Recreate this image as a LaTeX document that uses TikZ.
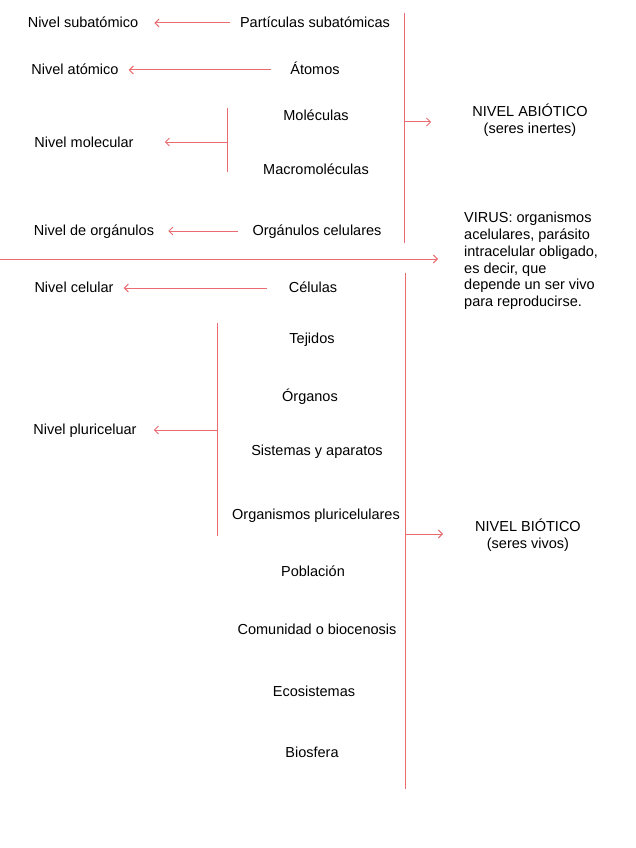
\documentclass[tikz,border=0pt]{standalone}
\usepackage{fontspec}
\setmainfont{Liberation Sans}
\usetikzlibrary{arrows.meta}
\definecolor{rojo}{RGB}{234,108,112}

\begin{document}
\begin{tikzpicture}[x = 1pt, y = -1pt,
	texto/.style = {inner sep = 0pt, font = \fontsize{14.5}{16.8}\selectfont},
	fila/.style = {texto, text height = 11pt, text depth = 2pt},
	linea/.style = {rojo, line width = 1pt},
	flecha/.style = {linea, -{Straight Barb[length = 4pt, width = 8pt]}}]
	%	marco
	\useasboundingbox (0, 0) rectangle (636, 848);
	
	\def\xeje{404}
	\def\xmol{227}
	\def\xplu{217}
	
	%	nivel abiotico
	\node[fila] (particulas) at (315, 23) {Partículas subatómicas};
	\node[fila] (subatomico) at (83, 23) {Nivel subatómico};
	\node[fila] (atomos) at (315, 70) {Átomos};
	\node[fila] (atomico) at (75, 70) {Nivel atómico};
	\node[fila] (moleculas) at (316, 116) {Moléculas};
	\node[fila] (macro) at (316, 170) {Macromoléculas};
	\node[fila] (molecular) at (84, 143) {Nivel molecular};
	\node[fila] (organulos) at (317, 231) {Orgánulos celulares};
	\node[fila] (norganulos) at (94, 231) {Nivel de orgánulos};
	\node[texto, align = center] (abiotico) at (530, 120) {NIVEL ABIÓTICO\\(seres inertes)};
	
	\draw[flecha, shorten <= 10pt, shorten >= 16pt] (particulas.west) -- (subatomico.east);
	\draw[flecha, shorten <= 19pt, shorten >= 10pt] (atomos.west) -- (atomico.east);
	\draw[flecha, shorten <= 14pt, shorten >= 14pt] (organulos.west) -- (norganulos.east);
	
	\coordinate (m1) at (\xmol, 108);
	\coordinate (m2) at (\xmol, 172);
	\coordinate (m0) at (\xmol, 142);
	\draw[linea] (m1) -- (m2);
	\draw[flecha, shorten >= 31pt] (m0) -- (m0 -| molecular.east);
	
	\coordinate (a1) at (\xeje, 13);
	\coordinate (a2) at (\xeje, 243);
	\coordinate (a0) at (\xeje, 122);
	\draw[linea] (a1) -- (a2);
	\draw[flecha, shorten >= 41pt] (a0) -- (a0 -| abiotico.west);
	
	%	virus
	\node[texto, align = left, anchor = west] (virus) at (464, 261) {VIRUS: organismos\\acelulares, parásito\\intracelular obligado,\\es decir, que\\depende un ser vivo\\para reproducirse.};
	\coordinate (v0) at (0, 259);
	\draw[flecha, shorten >= 26pt] (v0) -- (v0 -| virus.west);
	
	%	nivel biotico
	\node[fila] (celulas) at (313, 288) {Células};
	\node[fila] (celular) at (74, 288) {Nivel celular};
	\node[fila] (tejidos) at (312, 339) {Tejidos};
	\node[fila] (organos) at (310, 397) {Órganos};
	\node[fila] (sistemas) at (317, 451) {Sistemas y aparatos};
	\node[fila] (organismos) at (316, 515) {Organismos pluricelulares};
	\node[fila] (pluricelular) at (85, 430) {Nivel pluriceluar};
	\node[fila] (poblacion) at (313, 572) {Población};
	\node[fila] (comunidad) at (317, 630) {Comunidad o biocenosis};
	\node[fila] (ecosistemas) at (314, 692) {Ecosistemas};
	\node[fila] (biosfera) at (312, 753) {Biosfera};
	\node[texto, align = center] (biotico) at (528, 535) {NIVEL BIÓTICO\\(seres vivos)};
	
	\draw[flecha, shorten <= 22pt, shorten >= 10pt] (celulas.west) -- (celular.east);
	
	\coordinate (p1) at (\xplu, 323);
	\coordinate (p2) at (\xplu, 536);
	\coordinate (p0) at (\xplu, 430);
	\draw[linea] (p1) -- (p2);
	\draw[flecha, shorten >= 17pt] (p0) -- (p0 -| pluricelular.east);
	
	\coordinate (b1) at (\xeje + 1, 273);
	\coordinate (b2) at (\xeje + 1, 789);
	\coordinate (b0) at (\xeje + 1, 534);
	\draw[linea] (b1) -- (b2);
	\draw[flecha, shorten >= 32pt] (b0) -- (b0 -| biotico.west);
\end{tikzpicture}
\end{document}
